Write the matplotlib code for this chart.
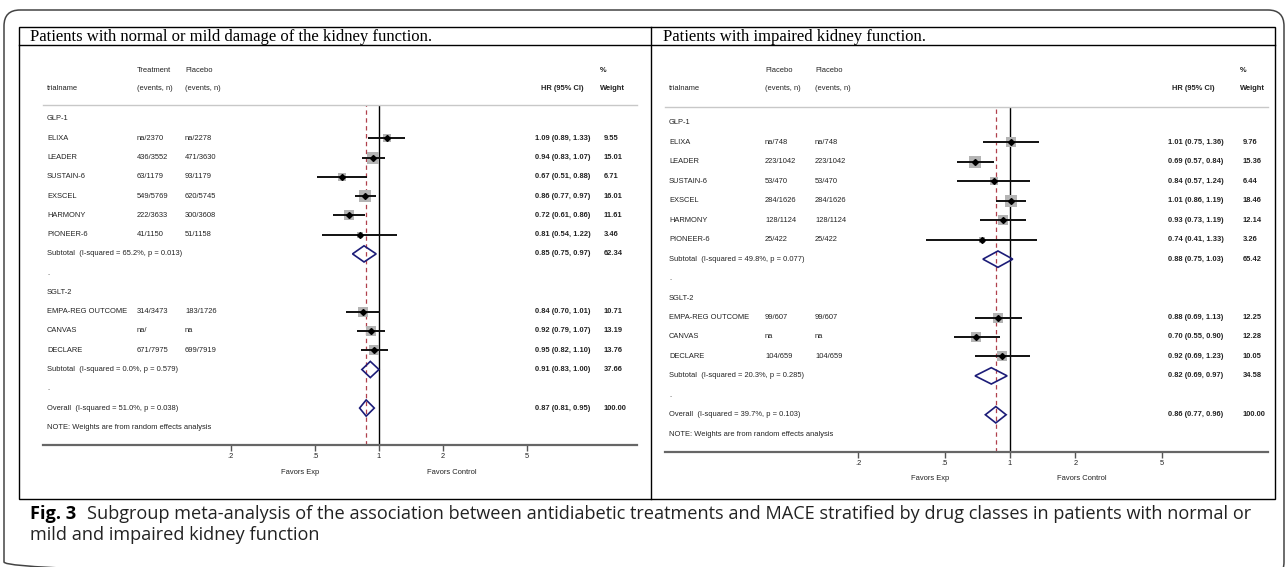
import matplotlib
matplotlib.use('Agg')
import matplotlib.pyplot as plt
import numpy as np
import matplotlib.transforms as mtransforms
from matplotlib.patches import FancyBboxPatch, Rectangle, Polygon

# ---------------- data ----------------
glp1_trials = ["ELIXA", "LEADER", "SUSTAIN-6", "EXSCEL", "HARMONY", "PIONEER-6"]
sglt2_trials = ["EMPA-REG OUTCOME", "CANVAS", "DECLARE"]

# Panel 1: normal or mild damage of kidney function
n_glp1_col2 = ["na/2370", "436/3552", "63/1179", "549/5769", "222/3633", "41/1150"]
n_glp1_col3 = ["na/2278", "471/3630", "93/1179", "620/5745", "300/3608", "51/1158"]
n_glp1_hr = [1.09, 0.94, 0.67, 0.86, 0.72, 0.81]
n_glp1_lo = [0.89, 0.83, 0.51, 0.77, 0.61, 0.54]
n_glp1_hi = [1.33, 1.07, 0.88, 0.97, 0.86, 1.22]
n_glp1_w = [9.55, 15.01, 6.71, 16.01, 11.61, 3.46]
n_sglt2_col2 = ["314/3473", "na/", "671/7975"]
n_sglt2_col3 = ["183/1726", "na", "699/7919"]
n_sglt2_hr = [0.84, 0.92, 0.95]
n_sglt2_lo = [0.70, 0.79, 0.82]
n_sglt2_hi = [1.01, 1.07, 1.10]
n_sglt2_w = [10.71, 13.19, 13.76]
n_sub_label = ["Subtotal  (I-squared = 65.2%, p = 0.013)",
               "Subtotal  (I-squared = 0.0%, p = 0.579)"]
n_sub_hr = [0.85, 0.91]
n_sub_lo = [0.75, 0.83]
n_sub_hi = [0.97, 1.00]
n_sub_w = [62.34, 37.66]
n_overall_label = "Overall  (I-squared = 51.0%, p = 0.038)"
n_overall = [0.87, 0.81, 0.95, 100.00]

# Panel 2: impaired kidney function
i_glp1_col2 = ["na/748", "223/1042", "53/470", "284/1626", "128/1124", "25/422"]
i_glp1_col3 = ["na/748", "223/1042", "53/470", "284/1626", "128/1124", "25/422"]
i_glp1_hr = [1.01, 0.69, 0.84, 1.01, 0.93, 0.74]
i_glp1_lo = [0.75, 0.57, 0.57, 0.86, 0.73, 0.41]
i_glp1_hi = [1.36, 0.84, 1.24, 1.19, 1.19, 1.33]
i_glp1_w = [9.76, 15.36, 6.44, 18.46, 12.14, 3.26]
i_sglt2_col2 = ["99/607", "na", "104/659"]
i_sglt2_col3 = ["99/607", "na", "104/659"]
i_sglt2_hr = [0.88, 0.70, 0.92]
i_sglt2_lo = [0.69, 0.55, 0.69]
i_sglt2_hi = [1.13, 0.90, 1.23]
i_sglt2_w = [12.25, 12.28, 10.05]
i_sub_label = ["Subtotal  (I-squared = 49.8%, p = 0.077)",
               "Subtotal  (I-squared = 20.3%, p = 0.285)"]
i_sub_hr = [0.88, 0.82]
i_sub_lo = [0.75, 0.69]
i_sub_hi = [1.03, 0.97]
i_sub_w = [65.42, 34.58]
i_overall_label = "Overall  (I-squared = 39.7%, p = 0.103)"
i_overall = [0.86, 0.77, 0.96, 100.00]

group_labels = ["GLP-1", "SGLT-2"]
tick_values = [0.2, 0.5, 1, 2, 5]
tick_labels = [".2", ".5", "1", "2", "5"]

titles = ["Patients with normal or mild damage of the kidney function.",
          "Patients with impaired kidney function."]
col2_headers = ["Treatment", "Placebo"]
caption_bold = "Fig. 3"
caption_line1 = "Subgroup meta-analysis of the association between antidiabetic treatments and MACE stratified by drug classes in patients with normal or"
caption_line2 = "mild and impaired kidney function"

# ---------------- figure ----------------
W, H = 1287, 567
fig = plt.figure(figsize=(W / 100, H / 100), dpi=100)
bg = fig.add_axes([0, 0, 1, 1], zorder=0)
bg.set_xlim(0, W)
bg.set_ylim(H, 0)
bg.axis('off')

SANS = ['Liberation Sans', 'DejaVu Sans']
FS = 5.4
TXT = '#222222'

# outer rounded box
bg.add_patch(FancyBboxPatch((4, 10), 1280, 568, boxstyle="round,pad=0,rounding_size=16",
                            fill=False, ec='#444444', lw=1.1))
# inner frame
bg.add_patch(Rectangle((19, 27), 1256, 472, fill=False, ec='black', lw=1.0))
bg.plot([651, 651], [27, 499], color='black', lw=1.0)
bg.plot([19, 1275], [45, 45], color='black', lw=1.0)

panels = [
    dict(title=titles[0], col2h=col2_headers[0],
         glp=(n_glp1_col2, n_glp1_col3, n_glp1_hr, n_glp1_lo, n_glp1_hi, n_glp1_w),
         sgl=(n_sglt2_col2, n_sglt2_col3, n_sglt2_hr, n_sglt2_lo, n_sglt2_hi, n_sglt2_w),
         sub=(n_sub_label, n_sub_hr, n_sub_lo, n_sub_hi, n_sub_w),
         ov=(n_overall_label, n_overall),
         x_left=43, x_right=637, x1=379, dec=212, title_x=30,
         c_name=47, c2=137, c3=185, c_hr=535, h_hr=541, c_w=604, h_pct=600,
         y_top=105, y_axis=445, row0=119, drow=19.27,
         fav_exp=300, fav_ctl=452, y_fav=472),
    dict(title=titles[1], col2h=col2_headers[1],
         glp=(i_glp1_col2, i_glp1_col3, i_glp1_hr, i_glp1_lo, i_glp1_hi, i_glp1_w),
         sgl=(i_sglt2_col2, i_sglt2_col3, i_sglt2_hr, i_sglt2_lo, i_sglt2_hi, i_sglt2_w),
         sub=(i_sub_label, i_sub_hr, i_sub_lo, i_sub_hi, i_sub_w),
         ov=(i_overall_label, i_overall),
         x_left=665, x_right=1268, x1=1010, dec=217, title_x=663,
         c_name=669, c2=765, c3=815, c_hr=1168, h_hr=1172, c_w=1243, h_pct=1240,
         y_top=107, y_axis=452, row0=123, drow=19.45,
         fav_exp=930, fav_ctl=1082, y_fav=479),
]

for P in panels:
    # title
    bg.text(P['title_x'], 41, P['title'], fontsize=12, family=['Liberation Serif', 'DejaVu Serif'],
            va='baseline', ha='left', color='black')
    # headers
    hk = dict(fontsize=FS, family=SANS, va='center', ha='left', color=TXT)
    bg.text(P['c2'], 71, P['col2h'], **hk)
    bg.text(P['c3'], 71, "Placebo", **hk)
    bg.text(P['h_pct'], 71, "%", fontweight='bold', **hk)
    bg.text(P['c_name'], 88, "trialname", **hk)
    bg.text(P['c2'], 88, "(events, n)", **hk)
    bg.text(P['c3'], 88, "(events, n)", **hk)
    bg.text(P['h_hr'], 88, "HR (95% CI)", fontweight='bold', **hk)
    bg.text(P['h_pct'], 88, "Weight", fontweight='bold', **hk)

    # forest axes
    xl, xr, x1, dec = P['x_left'], P['x_right'], P['x1'], P['dec']
    yt, ya, r0, dr = P['y_top'], P['y_axis'], P['row0'], P['drow']
    ax = fig.add_axes([xl / W, 1 - ya / H, (xr - xl) / W, (ya - yt) / H], zorder=2)
    ax.patch.set_alpha(0)
    ax.set_xscale('log')
    ax.set_xlim(10 ** ((xl - x1) / dec), 10 ** ((xr - x1) / dec))
    ax.set_ylim((ya - r0) / dr, (yt - r0) / dr)
    for s in ['left', 'right']:
        ax.spines[s].set_visible(False)
    ax.spines['top'].set_color('#c8c8c8')
    ax.spines['top'].set_linewidth(1.0)
    ax.spines['bottom'].set_color('#666666')
    ax.spines['bottom'].set_linewidth(1.6)
    ax.set_yticks([])
    ax.xaxis.set_minor_locator(matplotlib.ticker.NullLocator())
    ax.set_xticks(tick_values)
    ax.set_xticklabels(tick_labels)
    ax.tick_params(axis='x', direction='out', length=4, width=1.0, color='#555555',
                   labelsize=FS, labelcolor=TXT, pad=2)
    for lab in ax.get_xticklabels():
        lab.set_family(SANS)

    tr = mtransforms.blended_transform_factory(bg.transData, ax.transData)
    tk = dict(fontsize=FS, family=SANS, va='center', ha='left', color=TXT,
              transform=tr, clip_on=False)

    ov_label, ov = P['ov']
    ax.axvline(1, color='black', lw=1.0, zorder=1)
    ax.axvline(ov[0], color='#b0404c', lw=0.9, dashes=(3.5, 2.8), zorder=1)

    row = 0
    groups = [(group_labels[0], glp1_trials, P['glp']), (group_labels[1], sglt2_trials, P['sgl'])]
    sub_label, sub_hr, sub_lo, sub_hi, sub_w = P['sub']
    for gi, (gname, names, vals) in enumerate(groups):
        c2, c3, hr, lo, hi, w = vals
        bg.text(P['c_name'], row, gname, **tk)
        row += 1
        for k in range(len(names)):
            bg.text(P['c_name'], row, names[k], **tk)
            bg.text(P['c2'], row, c2[k], **tk)
            bg.text(P['c3'], row, c3[k], **tk)
            bg.text(P['c_hr'], row, f"{hr[k]:.2f} ({lo[k]:.2f}, {hi[k]:.2f})", fontweight='bold', **tk)
            bg.text(P['c_w'], row, f"{w[k]:.2f}", fontweight='bold', **tk)
            side_pt = 2.9 * np.sqrt(w[k]) * 0.72
            ax.scatter([hr[k]], [row], s=side_pt ** 2, marker='s', color='#b4b4b4', lw=0, zorder=3)
            ax.plot([lo[k], hi[k]], [row, row], color='#111111', lw=1.4, zorder=4,
                    solid_capstyle='butt')
            ax.plot([hr[k]], [row], marker='D', ms=3.0, color='black', zorder=5)
            row += 1
        # subtotal
        bg.text(P['c_name'], row, sub_label[gi], **tk)
        bg.text(P['c_hr'], row, f"{sub_hr[gi]:.2f} ({sub_lo[gi]:.2f}, {sub_hi[gi]:.2f})", fontweight='bold', **tk)
        bg.text(P['c_w'], row, f"{sub_w[gi]:.2f}", fontweight='bold', **tk)
        ax.add_patch(Polygon([(sub_lo[gi], row), (sub_hr[gi], row - 0.42), (sub_hi[gi], row),
                              (sub_hr[gi], row + 0.42)], closed=True, fill=False,
                             ec='#1c1c78', lw=1.2, zorder=5))
        row += 1
        bg.text(P['c_name'], row, ".", **tk)
        row += 1
    # overall
    bg.text(P['c_name'], row, ov_label, **tk)
    bg.text(P['c_hr'], row, f"{ov[0]:.2f} ({ov[1]:.2f}, {ov[2]:.2f})", fontweight='bold', **tk)
    bg.text(P['c_w'], row, f"{ov[3]:.2f}", fontweight='bold', **tk)
    ax.add_patch(Polygon([(ov[1], row), (ov[0], row - 0.42), (ov[2], row), (ov[0], row + 0.42)],
                         closed=True, fill=False, ec='#1c1c78', lw=1.2, zorder=5))
    row += 1
    bg.text(P['c_name'], row, "NOTE: Weights are from random effects analysis", **tk)

    # favors
    fk = dict(fontsize=FS, family=SANS, va='center', ha='center', color=TXT)
    bg.text(P['fav_exp'], P['y_fav'], "Favors Exp", **fk)
    bg.text(P['fav_ctl'], P['y_fav'], "Favors Control", **fk)

# caption (size fitted so the first line spans the same width as in the original)
CAP = ['Open Sans', 'DejaVu Sans']
cap_x0, cap_x1 = 30, 1256
fs0 = 10.0
t1 = bg.text(cap_x0, 519, caption_bold, fontsize=fs0, fontweight='bold', family=CAP,
             va='baseline', ha='left', color='black')
fig.canvas.draw()
gap = 0.8
t2 = bg.text(t1.get_window_extent().x1 + gap * fs0, 519, caption_line1, fontsize=fs0,
             family=CAP, va='baseline', ha='left', color='#222222')
fig.canvas.draw()
scale = (cap_x1 - cap_x0) / (t2.get_window_extent().x1 - cap_x0)
fs = fs0 * scale
t1.set_fontsize(fs)
fig.canvas.draw()
t2.set_fontsize(fs)
t2.set_position((t1.get_window_extent().x1 + gap * fs, 519))
bg.text(cap_x0, 540, caption_line2, fontsize=fs, family=CAP, va='baseline', ha='left', color='#222222')

fig.savefig('out.png', dpi=100)
